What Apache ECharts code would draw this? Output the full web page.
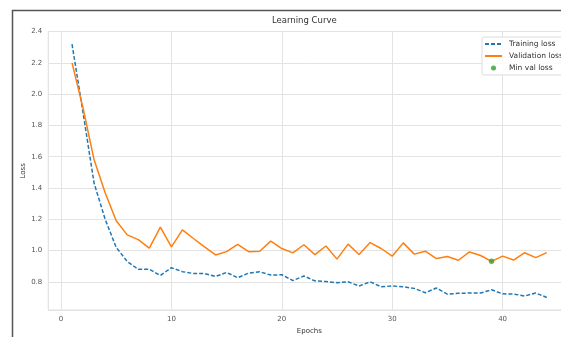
<!DOCTYPE html>
<html>
<head>
<meta charset="utf-8">
<script src="https://cdn.jsdelivr.net/npm/echarts@6/dist/echarts.min.js"></script>
<style>
html,body{margin:0;padding:0;background:#fff;}
#c{width:561px;height:337px;}
</style>
</head>
<body>
<div id="c"></div>
<script>
const epochs = [1,2,3,4,5,6,7,8,9,10,11,12,13,14,15,16,17,18,19,20,21,22,23,24,25,26,27,28,29,30,31,32,33,34,35,36,37,38,39,40,41,42,43,44];
const trainingLoss = [2.32,1.88,1.43,1.20,1.02,0.93,0.88,0.88,0.84,0.89,0.865,0.853,0.853,0.834,0.86,0.826,0.856,0.864,0.843,0.845,0.808,0.837,0.806,0.802,0.794,0.80,0.773,0.80,0.768,0.773,0.768,0.758,0.73,0.76,0.721,0.726,0.728,0.728,0.749,0.723,0.722,0.709,0.728,0.70];
const validationLoss = [2.20,1.91,1.58,1.37,1.19,1.10,1.07,1.015,1.15,1.023,1.132,1.077,1.023,0.972,0.993,1.04,0.993,0.995,1.06,1.013,0.985,1.037,0.974,1.029,0.945,1.041,0.975,1.051,1.013,0.964,1.049,0.977,0.996,0.949,0.962,0.938,0.991,0.968,0.931,0.964,0.939,0.986,0.955,0.987];
const minValEpoch = 39;
const minValLoss = 0.931;
const xTicks = [0,10,20,30,40];
const yTicks = [0.8,1.0,1.2,1.4,1.6,1.8,2.0,2.2,2.4];

const font = 'DejaVu Sans';
const chart = echarts.init(document.getElementById('c'), null, {renderer:'canvas'});
const near = (v, arr) => arr.some(t => Math.abs(t - v) < 1e-6);
chart.setOption({
  animation:false,
  backgroundColor:'#fff',
  title:{text:'Learning Curve', left:272, top:16, padding:0,
    textStyle:{fontFamily:font, fontSize:8.5, fontWeight:'normal', color:'#333'}},
  graphic:[{type:'rect', shape:{x:12.5, y:10.5, width:620, height:400},
    style:{fill:'none', stroke:'#555', lineWidth:1.5}, silent:true, z:100}],
  legend:{orient:'vertical', left:482, top:37, padding:[3,6,3,2], itemGap:4,
    itemWidth:17, itemHeight:5, backgroundColor:'rgba(255,255,255,0.85)',
    borderColor:'#dcdcdc', borderWidth:1, borderRadius:2,
    textStyle:{fontFamily:font, fontSize:7.5, color:'#333', padding:[0,0,0,2]},
    data:[
      {name:'Training loss', itemStyle:{opacity:0}},
      {name:'Validation loss', itemStyle:{opacity:0}},
      {name:'Min val loss'}
    ]},
  grid:{left:48.3, right:-9.5, top:31.5, bottom:26.9, show:true, borderColor:'#d5d5d5', borderWidth:1,
    containLabel:false, outerBoundsMode:'none'},
  xAxis:{type:'value', min:-1.15, max:46.15, splitNumber:5,
    name:'Epochs', nameLocation:'middle', nameGap:17,
    nameTextStyle:{fontFamily:font, fontSize:7, color:'#333'},
    axisLine:{show:false}, axisTick:{show:false},
    axisLabel:{fontFamily:font, fontSize:7, color:'#555', margin:6, showMinLabel:false, showMaxLabel:false,
      formatter:v => near(v, xTicks) ? String(Math.round(v)) : ''},
    splitLine:{show:true, lineStyle:{color:'#e3e3e3', width:1}}},
  yAxis:{type:'value', min:0.619, max:2.401, splitNumber:8,
    name:'Loss', nameLocation:'middle', nameGap:22, nameRotate:90, nameMoveOverlap:false,
    nameTextStyle:{fontFamily:font, fontSize:7, color:'#333'},
    axisLine:{show:false}, axisTick:{show:false},
    axisLabel:{fontFamily:font, fontSize:7, color:'#555', margin:6, showMinLabel:false, showMaxLabel:true,
      formatter:v => near(Math.round(v*1000)/1000, yTicks) ? (Math.round(v*10)/10).toFixed(1) : ''},
    splitLine:{show:true, lineStyle:{color:'#e3e3e3', width:1}}},
  series:[
    {name:'Training loss', type:'line', symbol:'none', data:epochs.map((e,i)=>[e, trainingLoss[i]]),
      lineStyle:{color:'#1f77b4', width:1.5, type:[4,2]}, itemStyle:{color:'#1f77b4'}, z:2},
    {name:'Validation loss', type:'line', symbol:'none', data:epochs.map((e,i)=>[e, validationLoss[i]]),
      lineStyle:{color:'#ff7f0e', width:1.5}, itemStyle:{color:'#ff7f0e'}, z:3},
    {name:'Min val loss', type:'scatter', symbol:'circle', symbolSize:5.5, data:[[minValEpoch, minValLoss]],
      itemStyle:{color:'#2ca02c'}, z:4}
  ]
});
</script>
</body>
</html>
